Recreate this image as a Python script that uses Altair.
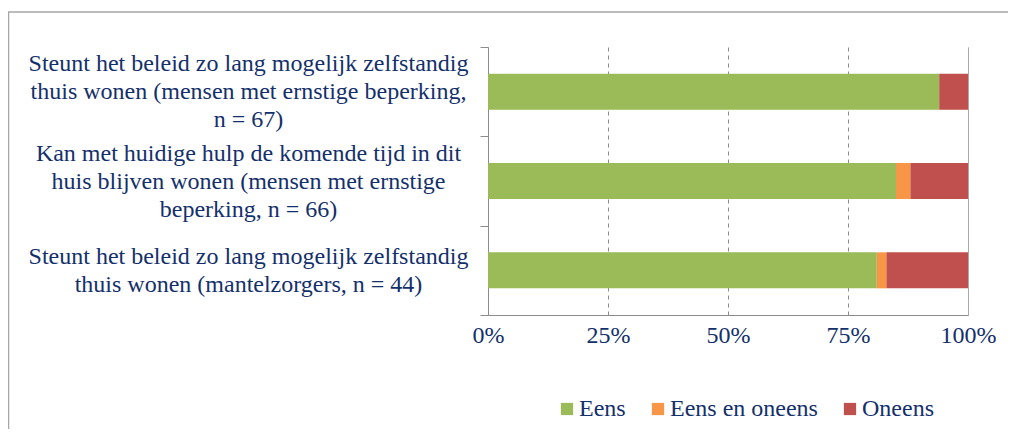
import altair as alt
import pandas as pd

# ---- data ----
categories = [
    "Steunt het beleid zo lang mogelijk zelfstandig|thuis wonen (mensen met ernstige beperking,|n = 67)",
    "Kan met huidige hulp de komende tijd in dit|huis blijven wonen (mensen met ernstige|beperking, n = 66)",
    "Steunt het beleid zo lang mogelijk zelfstandig|thuis wonen (mantelzorgers, n = 44)",
]
series = ["Eens", "Eens en oneens", "Oneens"]
eens = [94, 85, 81]
eens_en_oneens = [0, 3, 2]
oneens = [6, 12, 17]
colors = ["#9BBB59", "#F79646", "#C0504D"]
x_ticks = [0, 0.25, 0.5, 0.75, 1.0]

rows = []
for i, c in enumerate(categories):
    for j, (s, vals) in enumerate(zip(series, [eens, eens_en_oneens, oneens])):
        rows.append({"categorie": c, "reeks": s, "waarde": vals[i], "volgorde": j})
df = pd.DataFrame(rows)

FONT = "'Liberation Serif', 'Times New Roman', serif"
TXT = "#14306B"
AX = "#8C8C8C"
FS = 24
LH = 28

bars = alt.Chart(df).mark_bar(size=36).encode(
    y=alt.Y(
        "categorie:N",
        sort=categories,
        scale=alt.Scale(paddingInner=0, paddingOuter=0),
        axis=alt.Axis(
            title=None,
            labelExpr="split(datum.label, '|')",
            labelAlign="center",
            labelBaseline="middle",
            labelPadding=232,
            labelLineHeight=LH,
            labelLimit=1000,
            labelOffset={
                "condition": {"test": "length(split(datum.value, '|')) == 2", "value": -LH / 2},
                "value": -LH,
            },
            tickBand="extent",
            tickSize=8,
            tickColor=AX,
            domainColor=AX,
            grid=False,
        ),
    ),
    x=alt.X(
        "waarde:Q",
        stack="normalize",
        scale=alt.Scale(domain=[0, 1]),
        axis=alt.Axis(
            title=None,
            format=".0%",
            values=x_ticks,
            ticks=False,
            tickSize=0,
            labelPadding=8,
            domainColor=AX,
            grid=True,
            gridColor=AX,
            gridDash={"condition": {"test": "datum.value >= 1", "value": [1, 0]}, "value": [4, 4]},
            labelFlush=False,
        ),
    ),
    color=alt.Color(
        "reeks:N",
        scale=alt.Scale(domain=series, range=colors),
        legend=alt.Legend(
            title=None,
            orient="none",
            direction="horizontal",
            legendX=67,
            legendY=350,
            symbolType="square",
            symbolSize=150,
            symbolStrokeWidth=0,
            labelOffset=0,
            columnPadding=20,
        ),
    ),
    order=alt.Order("volgorde:Q"),
)

border_data = pd.DataFrame({"d": [0]})
border_v = alt.Chart(border_data).mark_rule(color="#A6A6A6", strokeWidth=1.5).encode(
    x=alt.value(-479.5), y=alt.value(-35), y2=alt.value(420)
)
border_h = alt.Chart(border_data).mark_rule(color="#A6A6A6", strokeWidth=1.5).encode(
    x=alt.value(-480), x2=alt.value(530), y=alt.value(-35)
)

chart = alt.layer(border_v, border_h, bars).properties(
    width=480,
    height=268,
    padding={"left": 480, "top": 39, "right": 40, "bottom": 114},
    autosize=alt.AutoSizeParams(type="none"),
).configure_view(stroke=None).configure_axis(
    labelFont=FONT, labelFontSize=FS, labelColor=TXT
).configure_legend(
    labelFont=FONT, labelFontSize=FS, labelColor=TXT
)

chart.save("out.html", embed_options={"renderer": "svg", "actions": False})
